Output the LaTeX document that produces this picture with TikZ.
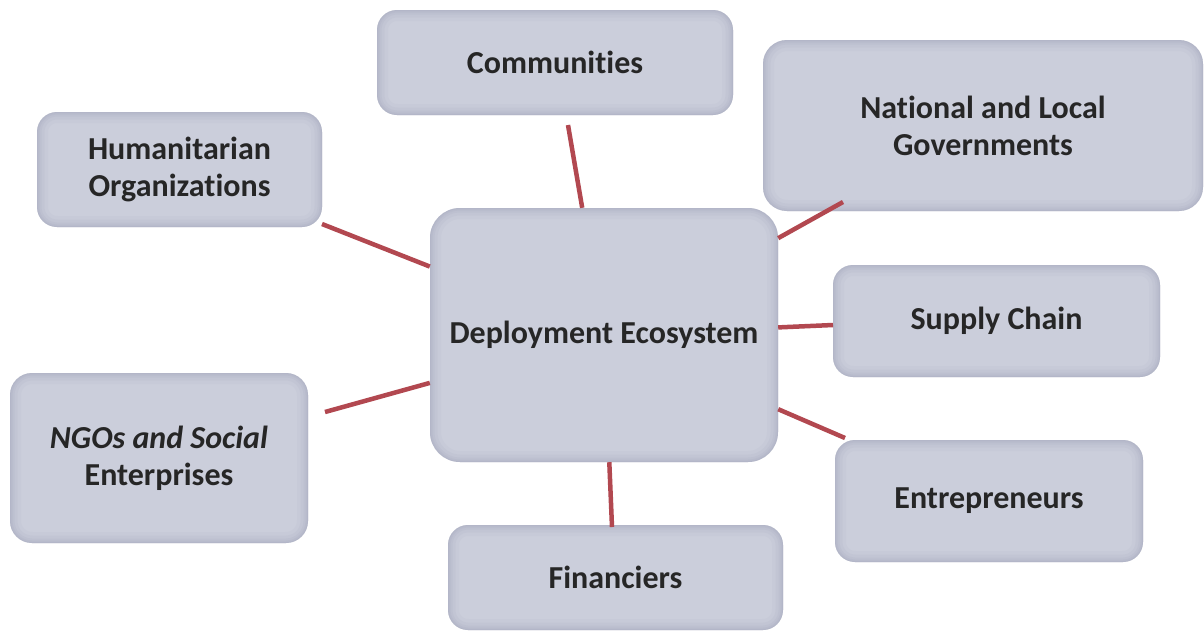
\documentclass[tikz,border=0pt]{standalone}
\usepackage{fontspec}
\setmainfont{Carlito}[Ligatures=NoCommon]
\definecolor{boxfill}{RGB}{203,206,219}
\definecolor{boxedge}{RGB}{155,160,182}
\definecolor{linkred}{RGB}{178,72,80}
\definecolor{txt}{RGB}{38,38,38}
\tikzset{
  gbox/.style={rounded corners=#1, fill=boxfill, align=center,
    font=\fontsize{32}{37}\selectfont\bfseries, text=txt, inner sep=0pt,
    path picture={
      \foreach \w/\o in {22/0.08, 15/0.10, 9/0.12, 5/0.14, 2/0.16}{
        \draw[boxedge, opacity=\o, line width=\w pt, rounded corners=#1]
          (path picture bounding box.south west) rectangle (path picture bounding box.north east);
      }
    }},
  link/.style={draw=linkred, line width=4.5pt}
}
\begin{document}
\begin{tikzpicture}[x=1pt,y=-1pt]
\useasboundingbox[fill=white] (0,0) rectangle (1204,633);

\node[gbox=30pt, minimum width=348pt, minimum height=254pt] (eco) at (604,335) {Deployment Ecosystem};
\node[gbox=20pt, minimum width=356pt, minimum height=105pt] (comm) at (555,62.5) {Communities};
\node[gbox=24pt, minimum width=440pt, minimum height=171pt] (gov) at (983,125.5) {National and Local\\Governments};
\node[gbox=20pt, minimum width=285pt, minimum height=115pt] (hum) at (179.5,169.5) {Humanitarian\\Organizations};
\node[gbox=20pt, minimum width=327pt, minimum height=112pt] (sup) at (996.5,321) {Supply Chain};
\node[gbox=22pt, minimum width=298pt, minimum height=170pt] (ngo) at (159,458) {{\itshape NGOs and Social}\\Enterprises};
\node[gbox=20pt, minimum width=308pt, minimum height=122pt] (ent) at (989,501) {Entrepreneurs};
\node[gbox=20pt, minimum width=335pt, minimum height=105pt] (fin) at (615.5,577.5) {Financiers};

\coordinate (ccomm) at (568,125);
\coordinate (cgov) at (843,202);
\coordinate (chum) at (322,224);
\coordinate (csup) at (833,325);
\coordinate (cngo) at (325,412);
\coordinate (cent) at (845,438);
\coordinate (cfin) at (612,527);

\foreach \c in {ccomm,cgov,chum,csup,cngo,cent,cfin}{
  \draw[link] (\c) -- (eco);
}
\end{tikzpicture}
\end{document}
